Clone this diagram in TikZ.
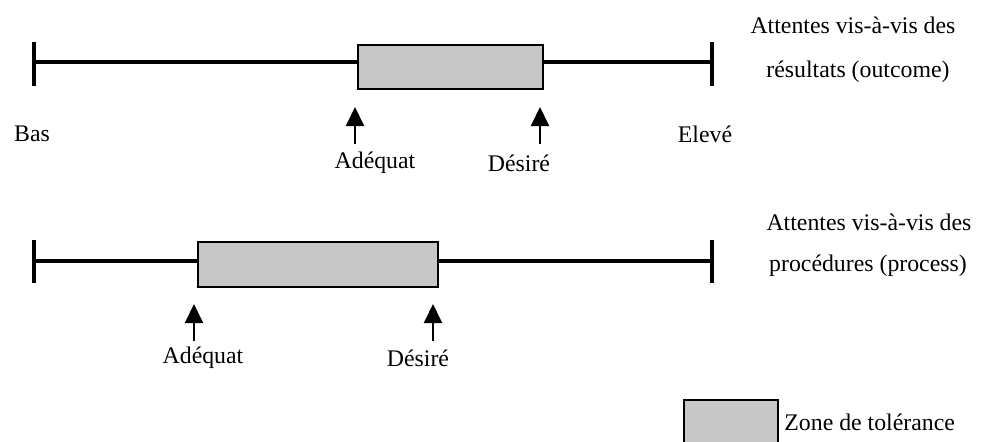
\documentclass[tikz,border=0pt]{standalone}
\usepackage{fontspec}
\setmainfont{Liberation Serif}
\usetikzlibrary{arrows.meta}
\begin{document}
\begin{tikzpicture}[x=0.5pt,y=-0.5pt,
  scaleline/.style={line width=1.6pt},
  tickline/.style={line width=1.6pt},
  zonebox/.style={draw,line width=1pt,fill=black!22},
  uparrow/.style={line width=1pt,-{Triangle[length=9.5pt,width=9pt]}},
  lbl/.style={font=\fontsize{11.9}{13}\selectfont,inner sep=0pt}]
\useasboundingbox (0,0) rectangle (996,441);
% top scale
\coordinate (t1l) at (34,62);
\coordinate (t1r) at (712,62);
\coordinate (t1lt) at (34,42); \coordinate (t1lb) at (34,86);
\coordinate (t1rt) at (712,42); \coordinate (t1rb) at (712,86);
\draw[scaleline] (t1l) -- (t1r);
\draw[tickline] (t1lt) -- (t1lb);
\draw[tickline] (t1rt) -- (t1rb);
\node[zonebox,minimum width=92.5pt,minimum height=22pt,inner sep=0pt,anchor=north west] (z1) at (357,44) {};
\coordinate (a1b) at (355,144); \coordinate (a1t) at (355,107);
\coordinate (d1b) at (540,144); \coordinate (d1t) at (540,107);
\draw[uparrow] (a1b) -- (a1t);
\draw[uparrow] (d1b) -- (d1t);
\node[lbl] (bas) at (32,134) {Bas};
\node[lbl] (elev) at (705,134) {Elevé};
\node[lbl] (ad1) at (375,163) {Adéquat};
\node[lbl] (de1) at (519,163) {Désiré};
\node[lbl] (t1a) at (853,25) {Attentes vis-à-vis des};
\node[lbl] (t1b) at (858,72) {résultats (outcome)};
% bottom scale
\coordinate (t2l) at (34,261);
\coordinate (t2r) at (712,261);
\coordinate (t2lt) at (34,240); \coordinate (t2lb) at (34,283);
\coordinate (t2rt) at (712,240); \coordinate (t2rb) at (712,283);
\draw[scaleline] (t2l) -- (t2r);
\draw[tickline] (t2lt) -- (t2lb);
\draw[tickline] (t2rt) -- (t2rb);
\node[zonebox,minimum width=120pt,minimum height=22.5pt,inner sep=0pt,anchor=north west] (z2) at (197,241) {};
\coordinate (a2b) at (194,341); \coordinate (a2t) at (194,304);
\coordinate (d2b) at (433,341); \coordinate (d2t) at (433,304);
\draw[uparrow] (a2b) -- (a2t);
\draw[uparrow] (d2b) -- (d2t);
\node[lbl] (ad2) at (203,358) {Adéquat};
\node[lbl] (de2) at (418,358) {Désiré};
\node[lbl] (t2a) at (869,222) {Attentes vis-à-vis des};
\node[lbl] (t2b) at (868,266) {procédures (process)};
% legend
\node[zonebox,minimum width=47pt,minimum height=23pt,inner sep=0pt,anchor=north west] (leg) at (683,399) {};
\node[lbl,anchor=west] (legt) at (784,422) {Zone de tolérance};
\end{tikzpicture}
\end{document}
